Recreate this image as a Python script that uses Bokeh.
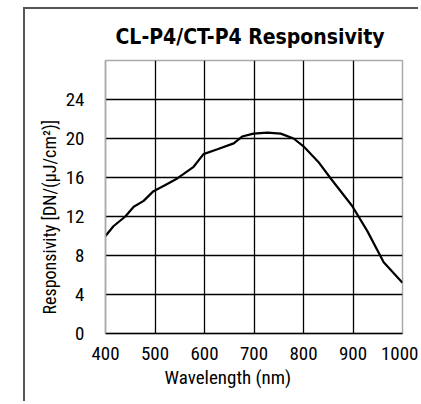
from bokeh.plotting import figure
from bokeh.models import FixedTicker, Range1d, Title
from bokeh.embed import file_html
from bokeh.resources import INLINE

# data
wavelength = [400, 416, 440, 457, 477, 497, 520, 545, 578, 598, 626, 659, 676,
              699, 727, 754, 780, 800, 830, 855, 898, 929, 962, 1000]
responsivity = [10.0, 11.0, 12.0, 13.0, 13.6, 14.6, 15.2, 15.9, 17.1, 18.4, 18.9,
                19.5, 20.2, 20.5, 20.6, 20.5, 20.0, 19.2, 17.6, 15.9, 13.1, 10.5,
                7.3, 5.2]
x_ticks = [400, 500, 600, 700, 800, 900, 1000]
y_ticks = [0, 4, 8, 12, 16, 20, 24]
title_text = "CL-P4/CT-P4 Responsivity"
x_label = "Wavelength (nm)"
y_label = "Responsivity [DN/(μJ/cm²)]"

FONT = "'Roboto Condensed', 'DejaVu Sans Condensed', sans-serif"
TITLE_FONT = "'DejaVu Sans Condensed', 'Roboto Condensed', sans-serif"

p = figure(width=395, height=394, output_backend="svg", toolbar_location=None,
           x_range=Range1d(400, 1000), y_range=Range1d(0, 28),
           min_border_left=80, min_border_right=18, min_border_top=51,
           min_border_bottom=70)
p.margin = (7, 0, 0, 23)
p.styles = {"border-left": "2px solid #555555", "border-top": "2px solid #555555"}

p.line(wavelength, responsivity, line_color="black", line_width=2.2)

p.outline_line_color = "#aaaaaa"
p.outline_line_width = 1.5

p.xaxis.ticker = FixedTicker(ticks=x_ticks)
p.yaxis.ticker = FixedTicker(ticks=y_ticks)
p.xgrid.ticker = FixedTicker(ticks=[500, 600, 700, 800, 900])
p.ygrid.ticker = FixedTicker(ticks=[4, 8, 12, 16, 20, 24])
for g in (p.xgrid, p.ygrid):
    g.grid_line_color = "black"
    g.grid_line_width = 1.3

for ax in (p.xaxis, p.yaxis):
    ax.major_tick_line_color = None
    ax.minor_tick_line_color = None
    ax.major_label_text_font = FONT
    ax.major_label_text_font_size = "19px"
    ax.major_label_text_color = "black"
p.xaxis.axis_line_color = "black"
p.xaxis.axis_line_width = 1.5
p.yaxis.axis_line_color = "#aaaaaa"
p.yaxis.axis_line_width = 1.5
p.xaxis.major_label_standoff = 7
p.yaxis.major_label_standoff = 15

p.title.text = title_text
p.title.align = "left"
p.title.offset = 10
p.title.standoff = 23
p.title.text_font = TITLE_FONT
p.title.text_font_style = "bold"
p.title.text_font_size = "21px"
p.title.text_color = "black"

p.add_layout(Title(text=x_label, align="left", offset=59, standoff=2,
                   text_font=FONT, text_font_style="normal", text_font_size="19px",
                   text_color="black"), "below")
p.add_layout(Title(text=y_label, align="left", offset=19, standoff=5,
                   text_font=FONT, text_font_style="normal", text_font_size="18px",
                   text_color="black"), "left")

open("out.html", "w").write(file_html(p, INLINE))
